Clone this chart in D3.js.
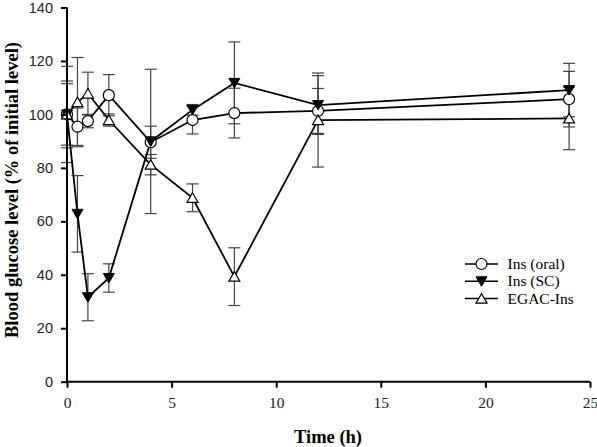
<!DOCTYPE html>
<html><head><meta charset="utf-8">
<script src="https://cdn.jsdelivr.net/npm/d3@7"></script>
<style>body{margin:0;background:#fff}svg{display:block}</style>
</head><body>
<script>
const times = [0, 0.5, 1, 2, 4, 6, 8, 12, 24];
const oralMean = [100, 95.4, 97.5, 107.2, 89.6, 97.9, 100.5, 101.3, 105.7];
const oralErr  = [11.5, 7, 2.5, 7.7, 6, 5.2, 9.3, 8.4, 10.4];
const scMean   = [100, 62.8, 31.6, 38.8, 89.9, 101.7, 111.8, 103.5, 109.1];
const scErr    = [18, 14.3, 8.8, 5.3, 27, 2, 15.3, 11, 10];
const egacMean = [100, 104.6, 107.8, 97.9, 81.2, 68.8, 39.3, 97.9, 98.5];
const egacErr  = [12.5, 16.7, 8, 2.3, 3.8, 5.2, 10.8, 17.6, 11.7];
const seriesNames = ["Ins (oral)", "Ins (SC)", "EGAC-Ins"];
const xTicks = [0, 5, 10, 15, 20, 25];
const yTicks = [0, 20, 40, 60, 80, 100, 120, 140];

const W = 597, H = 447;
const svg = d3.select("body").append("svg").attr("width", W).attr("height", H);
const x = d3.scaleLinear().domain([0, 25]).range([67, 590]);
const y = d3.scaleLinear().domain([0, 140]).range([381.7, 7.5]);

const series = [
  {name: seriesNames[0], mean: oralMean, err: oralErr, shape: "circle"},
  {name: seriesNames[1], mean: scMean, err: scErr, shape: "down"},
  {name: seriesNames[2], mean: egacMean, err: egacErr, shape: "up"}
];

function marker(g, shape, cx, cy) {
  if (shape === "circle") {
    g.append("circle").attr("cx", cx).attr("cy", cy).attr("r", 5.5)
      .attr("fill", "#fff").attr("stroke", "#000").attr("stroke-width", 1.2);
  } else if (shape === "down") {
    g.append("path").attr("d", `M${cx-5.5},${cy-4.5}L${cx+5.5},${cy-4.5}L${cx},${cy+5}Z`)
      .attr("fill", "#000").attr("stroke", "#000").attr("stroke-width", 1);
  } else {
    g.append("path").attr("d", `M${cx-5.5},${cy+4.5}L${cx+5.5},${cy+4.5}L${cx},${cy-5}Z`)
      .attr("fill", "#fff").attr("stroke", "#000").attr("stroke-width", 1.2);
  }
}

// error bars
const eg = svg.append("g");
series.forEach(s => {
  times.forEach((t, i) => {
    const cx = x(t), hi = y(s.mean[i] + s.err[i]), lo = y(s.mean[i] - s.err[i]);
    eg.append("line").attr("x1", cx).attr("x2", cx).attr("y1", hi).attr("y2", lo)
      .attr("stroke", "#444").attr("stroke-width", 1.2);
    [hi, lo].forEach(yy => eg.append("line").attr("x1", cx - 6).attr("x2", cx + 6)
      .attr("y1", yy).attr("y2", yy).attr("stroke", "#444").attr("stroke-width", 1.2));
  });
});

// lines
const line = d3.line().x(d => x(d[0])).y(d => y(d[1]));
series.forEach(s => {
  svg.append("path").datum(times.map((t, i) => [t, s.mean[i]]))
    .attr("d", line).attr("fill", "none").attr("stroke", "#000").attr("stroke-width", 1.8);
});

// markers
series.forEach(s => {
  const g = svg.append("g");
  times.forEach((t, i) => marker(g, s.shape, x(t), y(s.mean[i])));
});

// axes
const xAxis = svg.append("g").attr("transform", "translate(0,381.7)")
  .call(d3.axisBottom(x).tickValues(xTicks).tickSize(6).tickPadding(9).tickFormat(d3.format("d")));
xAxis.select(".domain").attr("stroke-width", 2).attr("d", `M${x(0)},0H${x(25)}`);
xAxis.selectAll(".tick line").attr("stroke-width", 2);
xAxis.selectAll("text").attr("font-family", "Liberation Serif, Times New Roman, serif").attr("font-size", 15.5).attr("fill", "#222");

const yAxis = svg.append("g").attr("transform", `translate(${x(0)},0)`)
  .call(d3.axisLeft(y).tickValues(yTicks).tickSize(6).tickPadding(8));
yAxis.select(".domain").attr("stroke-width", 2).attr("d", `M0,${y(0)}V${y(140)}`);
yAxis.selectAll(".tick line").attr("stroke-width", 2);
yAxis.selectAll("text").attr("font-family", "Liberation Sans, Arial, sans-serif").attr("font-size", 14.5).attr("fill", "#222");

svg.append("text").attr("x", 328).attr("y", 443).attr("text-anchor", "middle")
  .attr("font-family", "Liberation Serif, Times New Roman, serif").attr("font-weight", "bold")
  .attr("font-size", 18.5).text("Time (h)");
svg.append("text").attr("transform", "translate(18,190) rotate(-90)").attr("text-anchor", "middle")
  .attr("font-family", "Liberation Serif, Times New Roman, serif").attr("font-weight", "bold")
  .attr("font-size", 18.5).text("Blood glucose level (% of initial level)");

// legend
const lg = svg.append("g");
series.forEach((s, i) => {
  const ly = 264 + i * 17.3;
  lg.append("line").attr("x1", 465).attr("x2", 498).attr("y1", ly).attr("y2", ly)
    .attr("stroke", "#000").attr("stroke-width", 1.5);
  marker(lg, s.shape, 481.5, ly);
  lg.append("text").attr("x", 507.5).attr("y", ly + 5)
    .attr("font-family", "Liberation Serif, Times New Roman, serif").attr("font-size", 15.5)
    .text(s.name);
});
</script>
</body></html>
